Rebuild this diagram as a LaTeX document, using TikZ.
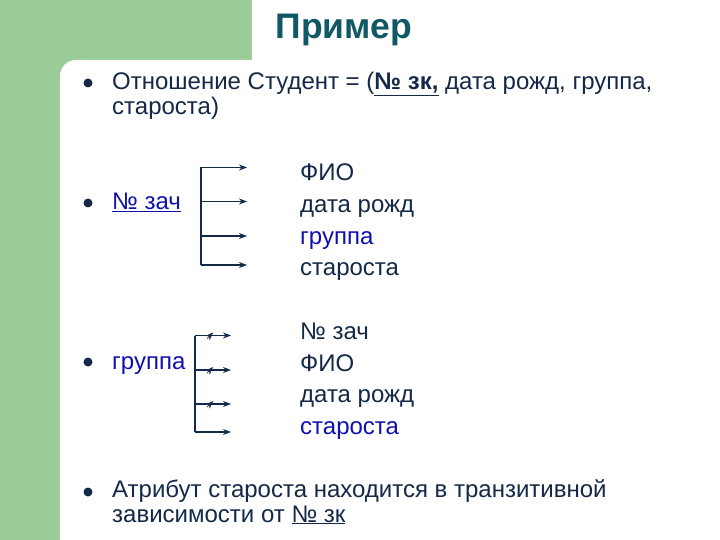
\documentclass[tikz,border=0pt]{standalone}
\usepackage{fontspec}
\setmainfont{Liberation Sans}
\usetikzlibrary{arrows.meta,decorations.markings,calc}
\definecolor{slidegreen}{RGB}{153,204,153}
\definecolor{navytext}{RGB}{20,40,72}
\definecolor{bluetext}{RGB}{16,16,176}
\definecolor{titleteal}{RGB}{16,88,100}
\begin{document}
\begin{tikzpicture}
  [
  x=1pt, y=-1pt,
  font=\fontsize{24}{24.5}\selectfont, text=navytext,
  dot/.style={circle, fill=navytext, inner sep=0pt, minimum size=9pt},
  item/.style={anchor=base west, inner sep=0pt, align=left},
  hl/.style={text=bluetext},
  arr/.style={-{Stealth[length=8pt,width=6pt]}, line width=1.5pt, draw=navytext},
  stem/.style={line width=1.5pt, draw=navytext},
  crossed/.style={postaction={decorate, decoration={markings,
      mark=at position 0.42 with {\draw[line width=0.8pt] (-3pt,-3pt) -- (3pt,3pt);}}}},
  ]

% background
\clip (0,0) rectangle (720,540);
\fill[slidegreen] (0,0) rectangle (720,540);
\fill[white] (252,0) rectangle (720,80);
\fill[white, rounded corners=16pt] (60,60) rectangle (760,580);

\node[anchor=base, font=\fontsize{35.5}{40}\selectfont\bfseries, text=titleteal] (title) at (344,39) {Пример};

% bullets
\node[dot] (d1) at (88,83) {};
\node[dot] (d2) at (88,203) {};
\node[dot] (d3) at (88,362) {};
\node[dot] (d4) at (88,492) {};

% two-line items: base is the last line
\node[item] (t1) at (112,114.5) {Отношение Студент = (\textbf{\underline{№ зк,}} дата рожд, группа,\\староста)};
\node[item, hl] (t2) at (112,210) {\underline{№ зач}};
\node[item, hl] (t3) at (112,369) {группа};
\node[item] (t4) at (112,522) {Атрибут староста находится в транзитивной\\зависимости от \underline{№ зк}};

% first group
\node[item] (f1) at (300,181) {ФИО};
\node[item] (f2) at (300,212.5) {дата рожд};
\node[item, hl] (f3) at (300,244) {группа};
\node[item] (f4) at (300,275.5) {староста};

\coordinate (a1) at (201,167.5);
\coordinate (a2) at (201,201.5);
\coordinate (a3) at (201,236);
\coordinate (a4) at (201,265);
\foreach \i in {1,2,3,4} {
  \coordinate (e\i) at ($(a\i)+(46,0)$);
}
\draw[stem] (a1) -- (a4);
\foreach \i in {1,2,3,4} {
  \draw[arr] (a\i) -- (e\i);
}

% second group
\node[item] (g1) at (300,339) {№ зач};
\node[item] (g2) at (300,371) {ФИО};
\node[item] (g3) at (300,402.5) {дата рожд};
\node[item, hl] (g4) at (300,434) {староста};

\coordinate (b1) at (195,335.5);
\coordinate (b2) at (195,370);
\coordinate (b3) at (195,404);
\coordinate (b4) at (195,432);
\foreach \i in {1,2,3,4} {
  \coordinate (c\i) at ($(b\i)+(36,0)$);
}
\draw[stem] (b1) -- (b4);
\foreach \i in {1,2,3} {
  \draw[arr, crossed] (b\i) -- (c\i);
}
\draw[arr] (b4) -- (c4);
\end{tikzpicture}
\end{document}
